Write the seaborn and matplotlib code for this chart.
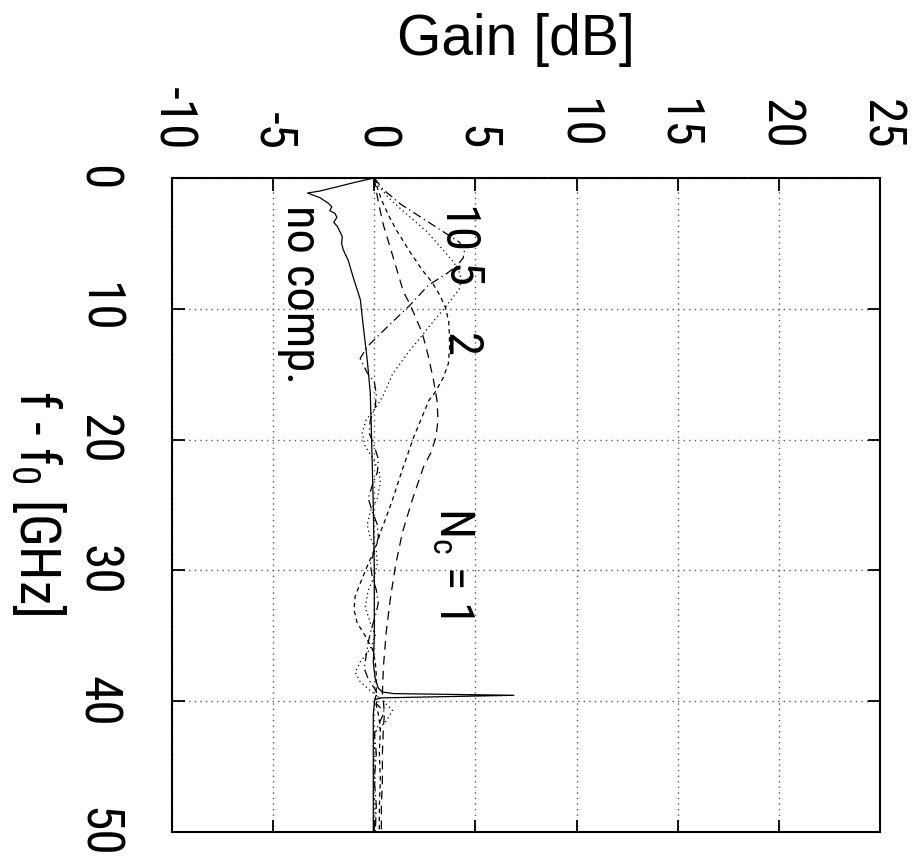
import numpy as np
import pandas as pd
import matplotlib
matplotlib.use("Agg")
import matplotlib.pyplot as plt
from matplotlib import font_manager
import seaborn as sns

# ---------------- data (f - f0 in GHz, gain in dB) ----------------
f_nocomp = [0, 0.35, 0.7, 1.0, 1.15, 1.5, 1.9, 2.2, 2.5, 2.7, 3.0, 3.4, 3.7, 4.1, 4.5, 5.0,
            5.5, 6.3, 7.6, 9.3, 11.4, 13.9, 16.4, 19.0, 22, 25, 30, 35, 37.1, 38.3, 39.0,
            39.3, 39.42, 39.55, 39.75, 39.9, 41, 43, 45, 47, 50]
g_nocomp = [0, -1.0, -1.9, -2.7, -3.3, -2.7, -2.3, -2.1, -2.2, -1.95, -1.85, -2.0, -1.83,
            -1.7, -1.58, -1.62, -1.53, -1.29, -1.04, -0.69, -0.54, -0.35, -0.2, -0.15, -0.1,
            -0.05, 0.0, 0.0, -0.05, 0.05, 0.2, 0.4, 0.95, 6.9, 0.3, 0.02, -0.05, -0.05,
            -0.05, -0.05, -0.05]

f_nc1 = [0, 1, 2, 3.6, 6.1, 8.7, 9.7, 11.9, 13.5, 15.4, 17, 18.5, 19.8, 21, 22.1, 24.6,
         27.1, 29.7, 32.2, 34.7, 37.4, 39.4, 40, 41, 42, 44, 46, 48, 50]
g_nc1 = [0, 0.1, 0.22, 0.45, 0.94, 1.44, 1.78, 2.38, 2.65, 2.92, 3.1, 3.15, 3.05, 2.8,
         2.43, 1.88, 1.39, 1.04, 0.79, 0.59, 0.45, 0.4, 0.45, 0.5, 0.45, 0.4, 0.4, 0.35, 0.35]

f_nc2 = [0, 1, 2, 3, 4, 5.5, 7, 8, 9, 9.9, 11, 11.9, 13, 14.2, 15.3, 16.4, 17, 18.5, 19.8,
         22.1, 24.6, 26.1, 27.1, 27.9, 29.5, 31, 32, 33, 34, 35, 36, 37, 38, 39, 40, 41,
         42, 44, 46, 48, 50]
g_nc2 = [0, 0.2, 0.45, 0.75, 1.1, 1.7, 2.35, 2.87, 3.25, 3.52, 3.68, 3.71, 3.72, 3.66,
         3.4, 3.0, 2.7, 2.3, 1.95, 1.43, 0.9, 0.55, 0.3, 0.15, -0.3, -0.7, -0.95, -1.0,
         -0.85, -0.45, -0.1, 0.05, 0.1, 0.1, 0.05, 0.2, 0.3, 0.25, 0.3, 0.25, 0.25]

f_nc5 = [0, 0.5, 1.5, 2.5, 4.1, 5.5, 6.5, 7.2, 7.8, 8.5, 9.9, 11, 12.2, 13.5, 15, 16.6,
         17.5, 18.5, 19.5, 20.5, 21.5, 22.5, 23.3, 24.5, 25.5, 26.5, 27.5, 28.5, 29.5,
         30.5, 31.5, 32.8, 34, 35, 36, 37, 37.8, 38.5, 39.2, 39.8, 40.7, 41.5, 42.3, 43,
         44, 45, 46, 47, 48, 50]
g_nc5 = [0, 0.15, 0.7, 1.4, 2.6, 3.4, 3.95, 4.2, 4.3, 4.2, 3.5, 2.9, 2.28, 1.6, 0.9, 0.45,
         0.1, -0.4, -0.6, -0.45, -0.05, 0.25, 0.3, 0.15, -0.2, -0.35, -0.2, 0.1, 0.15, 0.0,
         -0.3, -0.45, -0.2, 0.05, -0.2, -0.7, -0.94, -0.7, -0.2, 0.3, 0.9, 0.6, 0.1, -0.05,
         0.05, -0.05, 0.05, -0.05, 0.05, 0.0]

f_nc10 = [0, 0.9, 2, 3, 4.1, 4.9, 5.5, 6.1, 6.7, 7.4, 8.2, 9.7, 11.3, 12.9, 13.8, 14.9,
          15.6, 16.5, 17.5, 18.5, 19.5, 20.5, 21.5, 22.5, 23.5, 24.5, 25.5, 26.5, 27.5,
          28.5, 29.5, 30.5, 31.5, 32.5, 33.5, 34.5, 35.5, 36.5, 37.5, 38.3, 39, 39.6,
          40.2, 40.8, 41.5, 42.5, 44, 46, 48, 50]
g_nc10 = [0, 0.45, 1.3, 2.3, 3.4, 4.2, 4.46, 4.4, 4.1, 3.5, 2.67, 1.78, 0.7, -0.35, -0.7,
          -0.35, 0.0, 0.1, 0.05, -0.2, -0.25, 0.0, 0.2, 0.15, -0.1, -0.3, -0.1, 0.15, 0.2,
          0.0, -0.2, -0.1, 0.1, 0.2, 0.05, -0.15, -0.3, -0.4, -0.5, -0.3, 0.0, 0.2, 0.1,
          0.5, 0.3, 0.0, 0.1, 0.0, 0.1, 0.05]

series_names = ["no comp.", "Nc=1", "Nc=2", "Nc=5", "Nc=10"]
series_f = [f_nocomp, f_nc1, f_nc2, f_nc5, f_nc10]
series_g = [g_nocomp, g_nc1, g_nc2, g_nc5, g_nc10]

gain_ticks = [-10, -5, 0, 5, 10, 15, 20, 25]
freq_ticks = [0, 10, 20, 30, 40, 50]

# ---------------- styling ----------------
sns.set_style("ticks")
available = {f.name for f in font_manager.fontManager.ttflist}
narrow = None
for cand in ["Liberation Sans Narrow", "DejaVu Sans Condensed", "Roboto Condensed"]:
    if cand in available:
        narrow = cand
        break
if narrow is None:
    narrow = "Liberation Sans"
plt.rcParams["font.family"] = ["Liberation Sans", "DejaVu Sans"]
plt.rcParams["mathtext.fontset"] = "custom"
plt.rcParams["mathtext.rm"] = narrow
plt.rcParams["mathtext.it"] = narrow
for key in ["text.color", "axes.labelcolor", "xtick.color", "ytick.color", "axes.edgecolor"]:
    plt.rcParams[key] = "black"
NARROW = [narrow, "Liberation Sans", "DejaVu Sans"]

dash_styles = {
    "no comp.": None,
    "Nc=1": (7, 5),
    "Nc=2": (3.5, 3),
    "Nc=5": (1, 2.5),
    "Nc=10": (7, 3, 1, 3),
}

fig = plt.figure(figsize=(9.14, 8.61), dpi=100)
ax = fig.add_axes([0.1882, 0.0337, 0.7746, 0.7596])

for name, fv, gv in zip(series_names, series_f, series_g):
    df = pd.DataFrame({"f": fv, "gain": gv})
    sns.lineplot(data=df, x="gain", y="f", sort=False, estimator=None,
                 color="black", lw=0.9, ax=ax)
    line = ax.lines[-1]
    if dash_styles[name] is not None:
        line.set_dashes(dash_styles[name])

ax.set_xlim(-10, 25)
ax.set_ylim(50, 0)
ax.set_xlabel("")
ax.set_ylabel("")

ax.xaxis.tick_top()
ax.set_xticks(gain_ticks)
ax.set_yticks(freq_ticks)
ax.set_xticklabels([str(t) for t in gain_ticks], rotation=-90, family=NARROW)
ax.set_yticklabels([str(t) for t in freq_ticks], rotation=-90, va="center", family=NARROW)
ax.tick_params(axis="both", direction="in", length=9, width=1.3,
               top=True, bottom=True, left=True, right=True, labelsize=37,
               colors="black")
ax.tick_params(axis="x", pad=20)
ax.tick_params(axis="y", pad=36)

ax.grid(True, linestyle=(0, (1, 3)), color="0.35", lw=1.0)
for s in ax.spines.values():
    s.set_linewidth(1.5)
    s.set_color("black")

# in-plot labels
tkw = dict(rotation=-90, ha="center", va="center", fontsize=35, family=NARROW, color="black")
ax.text(-3.66, 8.9, "no comp.", **tkw)
ax.text(4.0, 4.0, "10", **tkw)
ax.text(4.2, 7.5, "5", **tkw)
ax.text(4.2, 12.8, "2", **tkw)
ax.text(3.9, 29.4, "N$_{\\mathrm{c}}$ = 1", **tkw)

# axis titles
fig.text(516 / 914, 1 - 40 / 861, "Gain [dB]", ha="center", va="center",
         fontsize=41, color="black")
fig.text(38 / 914, 1 - 503 / 861, "f - f$_0$ [GHz]", rotation=-90,
         ha="center", va="center", fontsize=40, family=NARROW, color="black")

fig.savefig("out.png", dpi=100)
